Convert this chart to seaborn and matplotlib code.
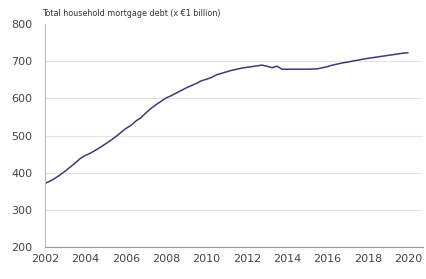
import matplotlib
matplotlib.use("Agg")
import matplotlib.pyplot as plt
import seaborn as sns
import pandas as pd

# values (quarterly, x EUR 1 billion)
years = [2002.00, 2002.25, 2002.50, 2002.75, 2003.00, 2003.25, 2003.50, 2003.75,
         2004.00, 2004.25, 2004.50, 2004.75, 2005.00, 2005.25, 2005.50, 2005.75,
         2006.00, 2006.25, 2006.50, 2006.75, 2007.00, 2007.25, 2007.50, 2007.75,
         2008.00, 2008.25, 2008.50, 2008.75, 2009.00, 2009.25, 2009.50, 2009.75,
         2010.00, 2010.25, 2010.50, 2010.75, 2011.00, 2011.25, 2011.50, 2011.75,
         2012.00, 2012.25, 2012.50, 2012.75, 2013.00, 2013.25, 2013.50, 2013.75,
         2014.00, 2014.50, 2015.00, 2015.50, 2015.75, 2016.00, 2016.25, 2016.50,
         2016.75, 2017.00, 2017.25, 2017.50, 2017.75, 2018.00, 2018.25, 2018.50,
         2018.75, 2019.00, 2019.25, 2019.50, 2019.75, 2020.00]
debt = [372, 378, 386, 395, 405, 416, 427, 439,
        447, 453, 461, 469, 478, 487, 497, 508,
        519, 527, 539, 548, 561, 573, 583, 592,
        601, 607, 614, 621, 628, 634, 640, 647,
        651, 656, 663, 667, 671, 675, 678, 681,
        683, 685, 687, 689, 686, 682, 686, 678,
        678, 678, 678, 679, 682, 685, 689, 692,
        695, 697, 700, 702, 705, 707, 709, 711,
        713, 715, 717, 719, 721, 722]
x_ticks = [2002, 2004, 2006, 2008, 2010, 2012, 2014, 2016, 2018, 2020]
y_ticks = [200, 300, 400, 500, 600, 700, 800]
title = "Total household mortgage debt (x \u20ac1 billion)"

df = pd.DataFrame({"year": years, "debt": debt})

sns.set_style("white")
plt.rcParams["font.family"] = ["DejaVu Sans"]

fig = plt.figure(figsize=(4.26, 2.79), dpi=100)
ax = fig.add_axes([0.106, 0.113, 0.887, 0.802])

# light horizontal grid, none on the top value
for y in y_ticks[1:-1]:
    ax.axhline(y, color="#e4e4e4", linewidth=0.8, zorder=0)

sns.lineplot(data=df, x="year", y="debt", ax=ax, color="#3d3a78", linewidth=1.1)

ax.set_xlim(2002, 2020.74)
ax.set_ylim(200, 800)
ax.set_xticks(x_ticks)
ax.set_yticks(y_ticks)
ax.set_xlabel("")
ax.set_ylabel("")
ax.tick_params(axis="x", direction="inout", length=6, width=0.8, color="#999999",
               labelsize=8, labelcolor="#444444", pad=2)
ax.tick_params(axis="y", direction="out", length=3, width=0.8, color="#bbbbbb",
               labelsize=8, labelcolor="#444444", pad=6)
for side in ["top", "right"]:
    ax.spines[side].set_visible(False)
ax.spines["left"].set_color("#bbbbbb")
ax.spines["left"].set_linewidth(0.8)
ax.spines["bottom"].set_color("#999999")
ax.spines["bottom"].set_linewidth(0.8)

fig.text(42 / 426, 1 - 14 / 279, title, fontsize=5.8, color="#333333", va="center", ha="left")

fig.savefig("out.png", dpi=100)
